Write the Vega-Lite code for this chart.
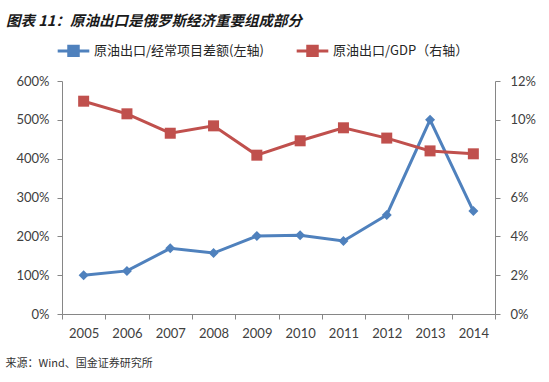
{
  "$schema": "https://vega.github.io/schema/vega-lite/v6.json",
  "width": 433,
  "height": 233,
  "autosize": {"type": "none"},
  "padding": {"left": 62, "top": 81, "right": 54, "bottom": 68},
  "background": "#ffffff",
  "title": {
    "text": "图表 11：原油出口是俄罗斯经济重要组成部分",
    "anchor": "start",
    "frame": "group",
    "dx": -56,
    "font": "Noto Sans CJK SC",
    "fontSize": 14.5,
    "fontStyle": "italic",
    "fontWeight": "bold",
    "color": "#1a1a1a",
    "offset": 4
  },
  "config": {
    "view": {"stroke": null},
    "axis": {
      "domainColor": "#868686",
      "tickColor": "#868686",
      "tickSize": 5,
      "grid": false,
      "labelColor": "#404040",
      "labelFont": "Lato",
      "labelFontSize": 13
    },
    "legend": {
      "labelFont": "Noto Sans CJK SC",
      "labelFontSize": 13,
      "labelColor": "#262626",
      "labelLimit": 400
    }
  },
  "data": {
    "values": [
      {"year": "2005", "series": "原油出口/经常项目差额(左轴)", "value": 1.00},
      {"year": "2006", "series": "原油出口/经常项目差额(左轴)", "value": 1.11},
      {"year": "2007", "series": "原油出口/经常项目差额(左轴)", "value": 1.69},
      {"year": "2008", "series": "原油出口/经常项目差额(左轴)", "value": 1.57},
      {"year": "2009", "series": "原油出口/经常项目差额(左轴)", "value": 2.01},
      {"year": "2010", "series": "原油出口/经常项目差额(左轴)", "value": 2.03},
      {"year": "2011", "series": "原油出口/经常项目差额(左轴)", "value": 1.88},
      {"year": "2012", "series": "原油出口/经常项目差额(左轴)", "value": 2.55},
      {"year": "2013", "series": "原油出口/经常项目差额(左轴)", "value": 5.00},
      {"year": "2014", "series": "原油出口/经常项目差额(左轴)", "value": 2.65},
      {"year": "2005", "series": "原油出口/GDP（右轴）", "value": 0.1096},
      {"year": "2006", "series": "原油出口/GDP（右轴）", "value": 0.1031},
      {"year": "2007", "series": "原油出口/GDP（右轴）", "value": 0.0931},
      {"year": "2008", "series": "原油出口/GDP（右轴）", "value": 0.0969},
      {"year": "2009", "series": "原油出口/GDP（右轴）", "value": 0.0818},
      {"year": "2010", "series": "原油出口/GDP（右轴）", "value": 0.0892},
      {"year": "2011", "series": "原油出口/GDP（右轴）", "value": 0.0959},
      {"year": "2012", "series": "原油出口/GDP（右轴）", "value": 0.0906},
      {"year": "2013", "series": "原油出口/GDP（右轴）", "value": 0.0840},
      {"year": "2014", "series": "原油出口/GDP（右轴）", "value": 0.0825}
    ]
  },
  "encoding": {
    "x": {
      "field": "year",
      "type": "ordinal",
      "bandPosition": 0.5,
      "scale": {"type": "band", "paddingInner": 0, "paddingOuter": 0},
      "axis": {
        "labelAngle": 0,
        "tickBand": "extent",
        "labelPadding": 8,
        "title": "来源：Wind、国金证券研究所",
        "titleAnchor": "start",
        "titleAlign": "left",
        "titleX": -57,
        "titleY": 49,
        "titleBaseline": "middle",
        "titleFont": "Noto Sans CJK SC",
        "titleFontSize": 11,
        "titleFontWeight": "normal",
        "titleColor": "#333333"
      }
    },
    "color": {
      "field": "series",
      "type": "nominal",
      "scale": {
        "domain": ["原油出口/经常项目差额(左轴)", "原油出口/GDP（右轴）"],
        "range": ["#4F81BD", "#C0504D"]
      },
      "legend": {
        "orient": "none",
        "direction": "horizontal",
        "legendX": -6,
        "legendY": -48,
        "title": null,
        "symbolType": "M-1,0H1M-0.3,-0.3H0.3V0.3H-0.3Z",
        "symbolSize": 1000,
        "symbolStrokeWidth": 3,
        "columnPadding": 26,
        "labelOffset": 3
      }
    }
  },
  "layer": [
    {
      "transform": [{"filter": "datum.series === '原油出口/经常项目差额(左轴)'"}],
      "encoding": {
        "y": {
          "field": "value",
          "type": "quantitative",
          "scale": {"domain": [0, 6], "nice": false},
          "axis": {
            "orient": "left",
            "values": [0, 1, 2, 3, 4, 5, 6],
            "format": ".0%",
            "title": null,
            "labelPadding": 8
          }
        }
      },
      "layer": [
        {"mark": {"type": "line", "strokeWidth": 3}},
        {"mark": {"type": "point", "shape": "diamond", "filled": true, "size": 100, "opacity": 1}}
      ]
    },
    {
      "transform": [{"filter": "datum.series === '原油出口/GDP（右轴）'"}],
      "encoding": {
        "y": {
          "field": "value",
          "type": "quantitative",
          "scale": {"domain": [0, 0.12], "nice": false},
          "axis": {
            "orient": "right",
            "values": [0, 0.02, 0.04, 0.06, 0.08, 0.1, 0.12],
            "format": ".0%",
            "title": null,
            "labelPadding": 10
          }
        }
      },
      "layer": [
        {"mark": {"type": "line", "strokeWidth": 3}},
        {"mark": {"type": "point", "shape": "square", "filled": true, "size": 121, "opacity": 1}}
      ]
    }
  ],
  "resolve": {"scale": {"y": "independent"}}
}
